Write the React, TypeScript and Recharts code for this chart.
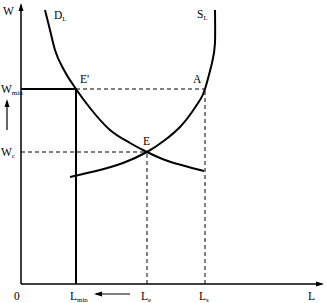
import React from 'react';
import { ComposedChart, Line, XAxis, YAxis, ReferenceLine, ReferenceDot } from 'recharts';

// Labour demand curve D_L (L, W)
const demandCurve = [
  { l: 24, w: 274 }, { l: 29, w: 254 }, { l: 34, w: 234 }, { l: 43, w: 214 },
  { l: 55, w: 195 }, { l: 69, w: 176 }, { l: 89, w: 154 }, { l: 109, w: 141 },
  { l: 126, w: 132 }, { l: 144, w: 124 }, { l: 164, w: 118 }, { l: 183, w: 113 },
];
// Labour supply curve S_L (L, W)
const supplyCurve = [
  { l: 194, w: 274 }, { l: 194, w: 241 }, { l: 191, w: 221 }, { l: 184, w: 195 },
  { l: 179, w: 184 }, { l: 171, w: 172 }, { l: 159, w: 157 }, { l: 144, w: 144 },
  { l: 126, w: 132 }, { l: 102, w: 121 }, { l: 79, w: 114 }, { l: 49, w: 107 },
];

const L_MIN = 55;
const L_E = 126;
const L_S = 184;
const L_MAX = 301;
const W_C = 132;
const W_MIN = 195;
const W_MAX = 279;

const xTicks = [0, L_MIN, L_E, L_S, L_MAX];
const xTickLabels: [string, string][] = [['0', ''], ['L', 'min'], ['L', 'e'], ['L', 's'], ['L', '']];
const yTicks = [W_C, W_MIN];
const yTickLabels: [string, string][] = [['W', 'c'], ['W', 'min']];

const FONT = '"Liberation Serif", "DejaVu Serif", serif';

const Sub = ({ x, y, main, sub, size = 11.5, anchor = 'start' }: any) => (
  <text x={x} y={y} fontFamily={FONT} fontSize={size} fill="#000" textAnchor={anchor}>
    {main}
    {sub ? <tspan fontSize={size * 0.6} dy={2}>{sub}</tspan> : null}
  </text>
);

const XTick = (props: any) => {
  const { x, y, payload } = props;
  const i = xTicks.indexOf(payload.value);
  const [m, s] = xTickLabels[i] || ['', ''];
  const dx = i === 0 ? -7 : -6;
  return <Sub x={x + dx} y={y + 14} main={m} sub={s} />;
};

const YTick = (props: any) => {
  const { y, payload } = props;
  const i = yTicks.indexOf(payload.value);
  const [m, s] = yTickLabels[i] || ['', ''];
  return <Sub x={1} y={y + 4} main={m} sub={s} />;
};

const label = (main: string, sub: string, dx: number, dy: number) => (p: any) => (
  <Sub x={p.cx + dx} y={p.cy + dy} main={main} sub={sub} />
);

const arrowHead = (dir: 'up' | 'right' | 'left') => (p: any) => {
  const { cx, cy } = p;
  let pts = '';
  if (dir === 'up') pts = `${cx},${cy - 2} ${cx - 2.5},${cy + 6} ${cx + 2.5},${cy + 6}`;
  if (dir === 'right') pts = `${cx + 2},${cy} ${cx - 6},${cy - 2.5} ${cx - 6},${cy + 2.5}`;
  if (dir === 'left') pts = `${cx - 1},${cy} ${cx + 7},${cy - 2.5} ${cx + 7},${cy + 2.5}`;
  return <polygon points={pts} fill="#000" />;
};

export default function App() {
  return (
    <div style={{ position: 'absolute', left: 0, top: 0, background: '#fff' }}>
      <ComposedChart
        width={326}
        height={303}
        margin={{ top: 5, right: 4, left: 0, bottom: 0 }}
      >
        <XAxis
          type="number"
          dataKey="l"
          domain={[0, L_MAX]}
          ticks={xTicks}
          tick={<XTick />}
          tickLine={false}
          tickSize={0}
          height={19}
          axisLine={{ stroke: '#000', strokeWidth: 1.5 }}
          allowDataOverflow
        />
        <YAxis
          type="number"
          dataKey="w"
          domain={[0, W_MAX]}
          ticks={yTicks}
          tick={<YTick />}
          tickLine={false}
          tickSize={0}
          width={21}
          axisLine={{ stroke: '#000', strokeWidth: 1.5 }}
          allowDataOverflow
        />
        {/* guide lines */}
        <ReferenceLine segment={[{ x: 0, y: W_MIN }, { x: L_MIN, y: W_MIN }]} stroke="#000" strokeWidth={2} />
        <ReferenceLine segment={[{ x: L_MIN, y: W_MIN }, { x: L_S, y: W_MIN }]} stroke="#000" strokeWidth={1} strokeDasharray="4 3" />
        <ReferenceLine segment={[{ x: 0, y: W_C }, { x: L_E, y: W_C }]} stroke="#000" strokeWidth={1} strokeDasharray="4 3" />
        <ReferenceLine segment={[{ x: L_MIN, y: 0 }, { x: L_MIN, y: W_MIN }]} stroke="#000" strokeWidth={2} />
        <ReferenceLine segment={[{ x: L_E, y: 0 }, { x: L_E, y: W_C }]} stroke="#000" strokeWidth={1} strokeDasharray="4 3" />
        <ReferenceLine segment={[{ x: L_S, y: 0 }, { x: L_S, y: W_MIN }]} stroke="#000" strokeWidth={1} strokeDasharray="4 3" />

        <Line data={demandCurve} dataKey="w" type="monotone" stroke="#000" strokeWidth={2} dot={false} isAnimationActive={false} />
        <Line data={supplyCurve} dataKey="w" type="natural" stroke="#000" strokeWidth={2} dot={false} isAnimationActive={false} />

        {/* axis arrows */}
        <ReferenceDot x={L_MAX} y={0} r={0} ifOverflow="visible" shape={arrowHead('right')} />
        <ReferenceDot x={0} y={W_MAX} r={0} ifOverflow="visible" shape={arrowHead('up')} />

        {/* movement arrows */}
        <ReferenceLine segment={[{ x: L_E - 17, y: -10 }, { x: L_MIN + 20, y: -10 }]} stroke="#000" strokeWidth={1.2} ifOverflow="visible" />
        <ReferenceDot x={L_MIN + 19} y={-10} r={0} ifOverflow="visible" shape={arrowHead('left')} />
        <ReferenceLine segment={[{ x: -14, y: W_C + 22 }, { x: -14, y: W_MIN - 14 }]} stroke="#000" strokeWidth={1.2} ifOverflow="visible" />
        <ReferenceDot x={-14} y={W_MIN - 12} r={0} ifOverflow="visible" shape={arrowHead('up')} />

        {/* labels */}
        <ReferenceDot x={0} y={W_MAX} r={0} ifOverflow="visible" shape={label('W', '', -18, 10)} />
        <ReferenceDot x={demandCurve[0].l} y={demandCurve[0].w} r={0} ifOverflow="visible" shape={label('D', 'L', 9, 9)} />
        <ReferenceDot x={supplyCurve[0].l} y={supplyCurve[0].w} r={0} ifOverflow="visible" shape={label('S', 'L', -18, 8)} />
        <ReferenceDot x={L_MIN} y={W_MIN} r={0} ifOverflow="visible" shape={label("E'", '', 4, -6)} />
        <ReferenceDot x={L_S} y={W_MIN} r={0} ifOverflow="visible" shape={label('A', '', -12, -6)} />
        <ReferenceDot x={L_E} y={W_C} r={0} ifOverflow="visible" shape={label('E', '', -4, -7)} />
      </ComposedChart>
    </div>
  );
}
